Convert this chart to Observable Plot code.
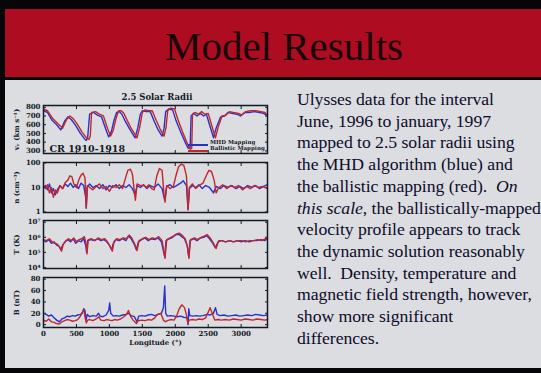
<!DOCTYPE html>
<html><head><meta charset="utf-8">
<script src="https://cdn.jsdelivr.net/npm/d3@7"></script>
<script src="https://cdn.jsdelivr.net/npm/@observablehq/plot@0.6"></script>
<style>
html,body{margin:0;padding:0;background:#060608;width:541px;height:373px;overflow:hidden;position:relative}
#band{position:absolute;left:5px;top:9px;width:536px;height:68px;background:#ae0c20}
#title{position:absolute;left:0;width:568px;top:26px;line-height:41px;text-align:center;font-family:"Liberation Serif";font-size:41px;color:#17060a}
#sheet{position:absolute;left:5px;top:80px;width:536px;height:288px;background:#dcdde1}
.p{position:absolute;left:0}
#ptitle{position:absolute;left:157px;top:92px;transform:translateX(-50%);font:bold 8.5px "DejaVu Serif";color:#121a24;white-space:nowrap}
#text{position:absolute;left:297px;top:89px;font-family:"Liberation Serif";font-size:17.7px;line-height:21.7px;letter-spacing:-0.05px;color:#0c0c2a;white-space:nowrap}
.lg{position:absolute;font:bold 5.5px "DejaVu Serif";color:#121a24;white-space:nowrap}
.ll{position:absolute;height:1.5px;width:20px}
</style></head>
<body>
<div id="band"></div>
<div id="title">Model Results</div>
<div id="sheet"></div>
<div id="ptitle">2.5 Solar Radii</div>
<div id="charts"></div>
<div id="legend"></div>
<div id="text">Ulysses data for the interval<br>June, 1996 to january, 1997<br>mapped to 2.5 solar radii using<br>the MHD algorithm (blue) and<br>the ballistic mapping (red).&nbsp; <i>On</i><br><i>this scale</i>, the ballistically-mapped<br>velocity profile appears to track<br>the dynamic solution reasonably<br>well.&nbsp; Density, temperature and<br>magnetic field strength, however,<br>show more significant<br>differences.</div>
<script>
// ---- data: [longitude (deg), value] ----
const seriesNames = ["MHD Mapping", "Ballistic Mapping"];
const xTicks = [0, 500, 1000, 1500, 2000, 2500, 3000];
const vTicks = [300, 400, 500, 600, 700, 800];
const nTicks = [1, 10, 100];
const tTicks = [1e4, 1e5, 1e6, 1e7];
const bTicks = [0, 20, 40, 60, 80];

const vMHD = [[0,760],[60,740],[130,650],[200,600],[262,540],[320,640],[370,690],[420,660],[480,600],[560,500],[620,440],[650,420],[670,450],[700,720],[760,740],[820,710],[880,690],[940,560],[990,460],[1030,520],[1070,650],[1110,740],[1150,750],[1190,720],[1240,640],[1300,560],[1390,450],[1430,560],[1470,720],[1500,760],[1560,750],[1620,750],[1680,640],[1740,540],[1800,470],[1830,560],[1855,750],[1900,780],[1960,770],[2010,650],[2080,520],[2150,400],[2195,330],[2225,340],[2241,700],[2280,730],[2330,700],[2380,730],[2430,700],[2473,720],[2520,600],[2581,450],[2620,560],[2689,690],[2750,700],[2800,740],[2860,730],[2937,720],[2990,700],[3050,740],[3120,740],[3200,750],[3280,740],[3340,730],[3400,700]];
const vBal = [[0,780],[60,760],[140,670],[220,610],[290,560],[350,660],[400,700],[450,670],[510,610],[590,510],[650,450],[690,430],[710,470],[730,740],[790,750],[850,720],[910,700],[970,560],[1020,470],[1060,540],[1100,670],[1140,760],[1180,760],[1220,730],[1270,650],[1330,560],[1420,450],[1460,570],[1500,740],[1540,770],[1600,760],[1650,760],[1710,650],[1770,550],[1830,470],[1860,570],[1885,760],[1930,790],[1990,780],[2040,660],[2110,520],[2180,390],[2225,320],[2250,330],[2262,720],[2300,740],[2350,720],[2400,750],[2450,720],[2500,730],[2550,600],[2610,450],[2650,570],[2710,700],[2770,710],[2820,750],[2880,740],[2960,730],[3010,710],[3070,750],[3140,760],[3220,760],[3300,750],[3360,740],[3400,710]];

const nMHD = [[0,10],[30,12],[60,8],[90,14],[120,6],[150,9],[180,5],[210,8],[250,12],[290,9],[330,14],[370,11],[410,15],[450,10],[490,13],[530,9],[570,15],[610,12],[640,4],[650,1.5],[665,10],[700,14],[750,10],[800,12],[850,9],[900,13],[950,8],[1000,12],[1050,10],[1100,13],[1150,9],[1200,12],[1250,10],[1300,13],[1350,9],[1390,5],[1420,12],[1470,10],[1520,13],[1570,9],[1620,12],[1680,10],[1740,14],[1800,9],[1840,3],[1870,11],[1920,13],[1970,10],[2020,12],[2080,15],[2120,19],[2170,12],[2195,1.3],[2215,9],[2260,12],[2310,10],[2360,13],[2410,9],[2460,12],[2520,10],[2580,6],[2620,11],[2680,9],[2740,12],[2800,10],[2860,12],[2920,9],[2980,11],[3040,9],[3100,12],[3160,10],[3220,12],[3280,9],[3340,11],[3400,13]];
const nBal = [[0,11],[30,9],[60,13],[90,6],[120,10],[150,4],[180,8],[210,6],[250,12],[290,9],[330,16],[370,20],[400,30],[430,28],[460,14],[500,10],[540,22],[570,32],[600,38],[630,25],[648,1.4],[665,12],[700,10],[750,8],[800,11],[850,14],[900,9],[950,11],[1000,7],[1050,12],[1100,10],[1150,13],[1200,9],[1240,22],[1280,50],[1320,56],[1350,35],[1380,6],[1395,3],[1420,14],[1470,12],[1520,12],[1560,10],[1600,13],[1640,9],[1680,8],[1720,30],[1760,60],[1800,50],[1830,5],[1845,2.5],[1870,12],[1920,9],[1970,11],[2010,30],[2050,70],[2090,90],[2130,80],[2170,30],[2193,1.2],[2215,10],[2260,14],[2310,9],[2360,12],[2420,15],[2470,30],[2510,50],[2550,45],[2590,20],[2620,6],[2660,10],[2720,13],[2780,9],[2840,12],[2900,10],[2960,12],[3020,8],[3080,11],[3140,9],[3200,12],[3260,10],[3320,11],[3400,9]];

const tMHD = [[0,6e5],[40,5e5],[80,7e5],[120,4e5],[160,5e5],[200,3e5],[240,2.5e5],[263,1.5e5],[290,3e5],[330,5e5],[370,7e5],[410,5e5],[450,8e5],[490,4e5],[530,6e5],[570,5e5],[610,8e5],[640,3e5],[655,1e5],[670,6e5],[720,7e5],[770,6e5],[820,8e5],[870,6e5],[920,7e5],[960,5e5],[1000,3e5],[1035,1.5e5],[1060,4e5],[1100,7e5],[1150,6e5],[1200,8e5],[1250,6e5],[1290,1.2e6],[1330,8e5],[1370,4e5],[1410,1.5e5],[1440,5e5],[1490,7e5],[1540,9e5],[1590,6e5],[1640,8e5],[1690,7e5],[1740,9e5],[1790,5e5],[1840,5e4],[1860,6e5],[1910,8e5],[1960,1e6],[2010,1.5e6],[2050,1.6e6],[2090,1.2e6],[2140,8e5],[2180,3e5],[2205,5e4],[2225,6e5],[2280,8e5],[2330,6e5],[2380,9e5],[2430,1e6],[2475,1.3e6],[2520,8e5],[2570,4e5],[2610,2e5],[2650,5e5],[2700,6e5],[2760,5e5],[2820,6e5],[2880,5e5],[2940,6e5],[3000,5e5],[3060,6e5],[3120,5e5],[3180,6e5],[3240,6e5],[3300,7e5],[3360,6e5],[3400,9e5]];
const tBal = [[0,7e5],[40,6e5],[90,8e5],[130,5e5],[170,4e5],[210,3.5e5],[250,2e5],[275,1.2e5],[300,3.5e5],[340,6e5],[380,8e5],[420,6e5],[460,9e5],[500,5e5],[540,7e5],[580,8e5],[620,1.1e6],[645,4e5],[660,8e4],[680,7e5],[730,8e5],[780,6e5],[830,9e5],[880,7e5],[930,8e5],[970,5e5],[1010,2.5e5],[1045,1.2e5],[1070,5e5],[1110,8e5],[1160,7e5],[1210,9e5],[1260,8e5],[1300,1.4e6],[1340,9e5],[1380,4e5],[1420,1.3e5],[1450,6e5],[1500,8e5],[1550,1e6],[1600,7e5],[1650,9e5],[1700,8e5],[1750,1.1e6],[1800,6e5],[1845,4e4],[1870,7e5],[1920,9e5],[1970,1.2e6],[2020,1.7e6],[2060,1.9e6],[2100,1.4e6],[2150,8e5],[2185,2.5e5],[2208,4e4],[2230,7e5],[2290,9e5],[2340,7e5],[2390,1e6],[2440,1.2e6],[2485,1.5e6],[2530,9e5],[2580,4e5],[2620,1.8e5],[2660,6e5],[2710,6e5],[2770,5e5],[2830,6e5],[2890,5e5],[2950,6e5],[3010,6e5],[3070,5e5],[3130,6e5],[3190,6e5],[3250,7e5],[3310,6e5],[3370,8e5],[3400,9e5]];

const bMHD = [[0,20],[40,18],[80,15],[120,17],[160,12],[200,8],[240,5],[280,10],[320,12],[360,15],[400,14],[440,16],[480,15],[520,17],[560,18],[590,20],[610,28],[630,25],[645,8],[665,18],[700,14],[750,16],[800,15],[835,20],[860,15],[900,14],[950,17],[990,25],[1005,38],[1020,20],[1060,15],[1100,16],[1150,15],[1200,17],[1250,18],[1290,20],[1330,16],[1380,14],[1420,5],[1445,15],[1490,16],[1540,15],[1590,17],[1640,18],[1690,16],[1740,18],[1790,20],[1820,30],[1840,68],[1855,20],[1880,15],[1930,16],[1980,15],[2030,14],[2080,15],[2130,13],[2180,12],[2195,0],[2205,28],[2220,16],[2270,15],[2320,16],[2370,15],[2420,16],[2480,18],[2530,17],[2580,20],[2610,30],[2635,18],[2680,16],[2740,17],[2800,15],[2860,16],[2920,17],[2980,15],[3040,16],[3100,17],[3160,16],[3220,18],[3280,17],[3340,16],[3400,17]];
const bBal = [[0,8],[40,6],[80,10],[120,5],[160,4],[200,2],[240,1],[280,5],[320,7],[360,9],[400,8],[440,6],[480,7],[520,9],[560,15],[590,22],[615,26],[635,10],[650,3],[670,8],[700,9],[750,7],[800,10],[840,14],[870,8],[920,7],[960,9],[1000,8],[1040,7],[1080,9],[1120,8],[1170,10],[1220,14],[1260,18],[1290,25],[1320,15],[1360,8],[1410,2],[1440,7],[1490,8],[1540,7],[1590,9],[1640,8],[1690,12],[1730,18],[1780,20],[1820,8],[1850,5],[1880,7],[1930,9],[1980,8],[2020,15],[2060,28],[2100,35],[2140,30],[2175,15],[2192,2],[2210,8],[2260,9],[2310,8],[2360,10],[2410,9],[2460,12],[2500,22],[2530,30],[2560,20],[2600,8],[2650,9],[2700,8],[2760,9],[2820,8],[2880,10],[2940,9],[3000,8],[3060,10],[3120,9],[3180,8],[3240,10],[3300,9],[3360,8],[3400,9]];

// ---- drawing ----
const blue = "#2b30c6", red = "#c2262c", ink = "#121a24";
const table = (mhd, bal) => [
  ...mhd.map(([lon, value]) => ({lon, value, series: seriesNames[0]})),
  ...bal.map(([lon, value]) => ({lon, value, series: seriesNames[1]}))
];
const sup = {"4":"⁴","5":"⁵","6":"⁶","7":"⁷"};

function panel({data, yType = "linear", yDomain, yTicks, yFormat, yLabel, top, frameH, bottomAxis = false, extra = []}) {
  const mt = 3, mb = bottomAxis ? 26 : 3;
  const svg = Plot.plot({
    width: 270, height: frameH + mt + mb,
    marginLeft: 43, marginRight: 3, marginTop: mt, marginBottom: mb,
    style: {background: "transparent", color: ink, fontFamily: "DejaVu Serif", fontWeight: "bold", fontSize: "7px", overflow: "visible"},
    x: {domain: [0, 3400]},
    y: {type: yType, domain: yDomain},
    color: {domain: seriesNames, range: [blue, red]},
    marks: [
      Plot.axisY(yTicks, {tickSize: 0, tickPadding: 3, tickFormat: yFormat, label: yLabel, labelAnchor: "center", labelArrow: "none", labelOffset: 29}),
      Plot.axisY(yTicks, {tickSize: -3, tickFormat: () => "", label: null}),
      Plot.axisY(yTicks, {anchor: "right", tickSize: -3, tickFormat: () => "", label: null}),
      Plot.axisX(xTicks, {anchor: "top", tickSize: -3, tickFormat: () => "", label: null}),
      bottomAxis
        ? Plot.axisX(xTicks, {anchor: "bottom", tickSize: 0, tickPadding: 4, tickFormat: d => String(d), label: "Longitude (°)", labelAnchor: "center", labelArrow: "none", labelOffset: 17})
        : null,
      Plot.axisX(xTicks, {anchor: "bottom", tickSize: -3, tickFormat: () => "", label: null}),
      Plot.line(data, {x: "lon", y: "value", stroke: "series", strokeWidth: 1.4}),
      Plot.frame({stroke: ink, strokeWidth: 1.5}),
      ...extra
    ]
  });
  svg.classList.add("p");
  svg.style.top = (top - mt) + "px";
  svg.style.position = "absolute";
  document.getElementById("charts").appendChild(svg);
}

panel({data: table(vMHD, vBal), yDomain: [270, 820], yTicks: vTicks, yFormat: d => String(d),
  yLabel: "vᵣ (km s⁻¹)", top: 105, frameH: 48,
  extra: [Plot.text(["CR 1910-1918"], {frameAnchor: "bottom-left", dx: 6, dy: -2, fontSize: 9.5, fontWeight: "bold", fill: ink})]});
panel({data: table(nMHD, nBal), yType: "log", yDomain: [0.95, 105], yTicks: nTicks, yFormat: d => String(d),
  yLabel: "n (cm⁻³)", top: 162, frameH: 50});
panel({data: table(tMHD, tBal), yType: "log", yDomain: [8.5e3, 1.3e7], yTicks: tTicks, yFormat: d => "10" + sup[String(Math.round(Math.log10(d)))],
  yLabel: "T (K)", top: 220, frameH: 48});
panel({data: table(bMHD, bBal), yDomain: [-5, 83], yTicks: bTicks, yFormat: d => String(d),
  yLabel: "B (nT)", top: 277, frameH: 50, bottomAxis: true});

// legend inside the velocity panel
const lg = document.getElementById("legend");
lg.innerHTML =
  `<div class="ll" style="left:188px;top:144px;background:${blue}"></div>` +
  `<div class="lg" style="left:210px;top:139px">${seriesNames[0]}</div>` +
  `<div class="ll" style="left:188px;top:150px;background:${red}"></div>` +
  `<div class="lg" style="left:210px;top:145px">${seriesNames[1]}</div>`;
</script>
</body></html>
